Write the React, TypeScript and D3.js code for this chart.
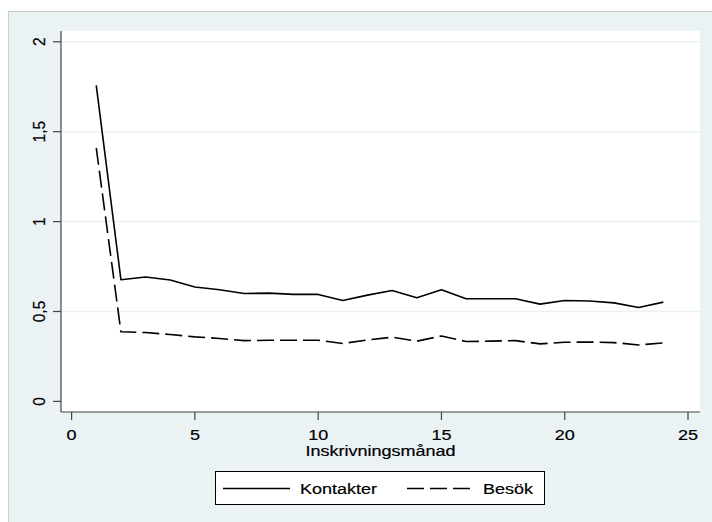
import React from 'react';
import * as d3 from 'd3';

// Inskrivningsmånad 1..24
const months = [1, 2, 3, 4, 5, 6, 7, 8, 9, 10, 11, 12, 13, 14, 15, 16, 17, 18, 19, 20, 21, 22, 23, 24];
const kontakter = [1.758, 0.677, 0.692, 0.675, 0.636, 0.621, 0.600, 0.602, 0.595, 0.595, 0.561, 0.591, 0.617, 0.576, 0.621, 0.571, 0.571, 0.571, 0.541, 0.561, 0.558, 0.548, 0.522, 0.552];
const besok = [1.41, 0.387, 0.383, 0.372, 0.359, 0.350, 0.338, 0.340, 0.340, 0.340, 0.322, 0.342, 0.357, 0.335, 0.364, 0.333, 0.335, 0.338, 0.320, 0.329, 0.330, 0.327, 0.314, 0.325];
const xTicks = [0, 5, 10, 15, 20, 25];
const yTicks = [0, 0.5, 1, 1.5, 2];
const xTitle = 'Inskrivningsmånad';
const legendLabels = ['Kontakter', 'Besök'];

const W = 712;
const H = 522;
const plot = { left: 61, right: 700, top: 31, bottom: 412 };
const font = '"Liberation Sans", Arial, sans-serif';
const stretch = 1.2;
const dash = '17,6';

const x = d3.scaleLinear().domain([0, 25]).range([71.6, 688]);
const y = d3.scaleLinear().domain([0, 2]).range([401.4, 41.8]);
const fmt = (v: number) => String(v).replace('.', ',');

const line = d3.line<number>()
    .x((d, i) => x(months[i]))
    .y(d => y(d));

// horizontal text, drawn a bit wide like the Stata export
const WideText = ({ x: tx, y: ty, children, anchor = 'middle' }: any) => (
    <text
        transform={`translate(${tx},${ty}) scale(${stretch},1)`}
        textAnchor={anchor}
        fontFamily={font}
        fontSize={15}
        fill="#000"
        stroke="#000"
        strokeWidth={0.2}
    >
        {children}
    </text>
);

const App = () => {
    return (
        <svg width={W} height={H} style={{ position: 'absolute', left: 0, top: 0, background: '#fff' }}>
            {/* graph region */}
            <rect x={8.5} y={11.5} width={W} height={H} fill="#eaf2f3" stroke="#c8cdce" />
            {/* plot region */}
            <rect x={plot.left} y={plot.top} width={plot.right - plot.left} height={plot.bottom - plot.top} fill="#fff" />

            {/* grid */}
            {yTicks.filter(t => t > 0).map(t => (
                <line key={t} x1={plot.left} x2={plot.right} y1={y(t)} y2={y(t)} stroke="#eaf2f3" strokeWidth={1.5} />
            ))}

            {/* y axis */}
            <line x1={plot.left} x2={plot.left} y1={plot.top} y2={plot.bottom} stroke="#444" strokeWidth={1.2} />
            {yTicks.map(t => (
                <g key={t}>
                    <line x1={53} x2={plot.left} y1={y(t)} y2={y(t)} stroke="#444" strokeWidth={1.2} />
                    <text
                        transform={`translate(45,${y(t)}) scale(1.1,1) rotate(-90)`}
                        textAnchor="middle"
                        fontFamily={font}
                        fontSize={15.5}
                        fill="#000"
                        stroke="#000"
                        strokeWidth={0.2}
                    >
                        {fmt(t)}
                    </text>
                </g>
            ))}

            {/* x axis */}
            <line x1={plot.left} x2={plot.right} y1={plot.bottom} y2={plot.bottom} stroke="#444" strokeWidth={1.2} />
            {xTicks.map(t => (
                <g key={t}>
                    <line x1={x(t)} x2={x(t)} y1={plot.bottom} y2={420} stroke="#444" strokeWidth={1.2} />
                    <WideText x={x(t)} y={439.5}>{t}</WideText>
                </g>
            ))}
            <WideText x={(plot.left + plot.right) / 2} y={456}>{xTitle}</WideText>

            {/* series */}
            <path d={line(kontakter) || ''} fill="none" stroke="#000" strokeWidth={1.6} strokeLinejoin="round" />
            <path d={line(besok) || ''} fill="none" stroke="#000" strokeWidth={1.6} strokeDasharray={dash} strokeLinejoin="round" />

            {/* legend */}
            <rect x={215.5} y={471.5} width={329} height={33} fill="#fff" stroke="#000" strokeWidth={1} />
            <line x1={223} x2={290} y1={488.5} y2={488.5} stroke="#000" strokeWidth={1.6} />
            <WideText x={300} y={494} anchor="start">{legendLabels[0]}</WideText>
            <line x1={407} x2={470} y1={488.5} y2={488.5} stroke="#000" strokeWidth={1.6} strokeDasharray={dash} />
            <WideText x={483} y={494} anchor="start">{legendLabels[1]}</WideText>
        </svg>
    );
};

export default App;
